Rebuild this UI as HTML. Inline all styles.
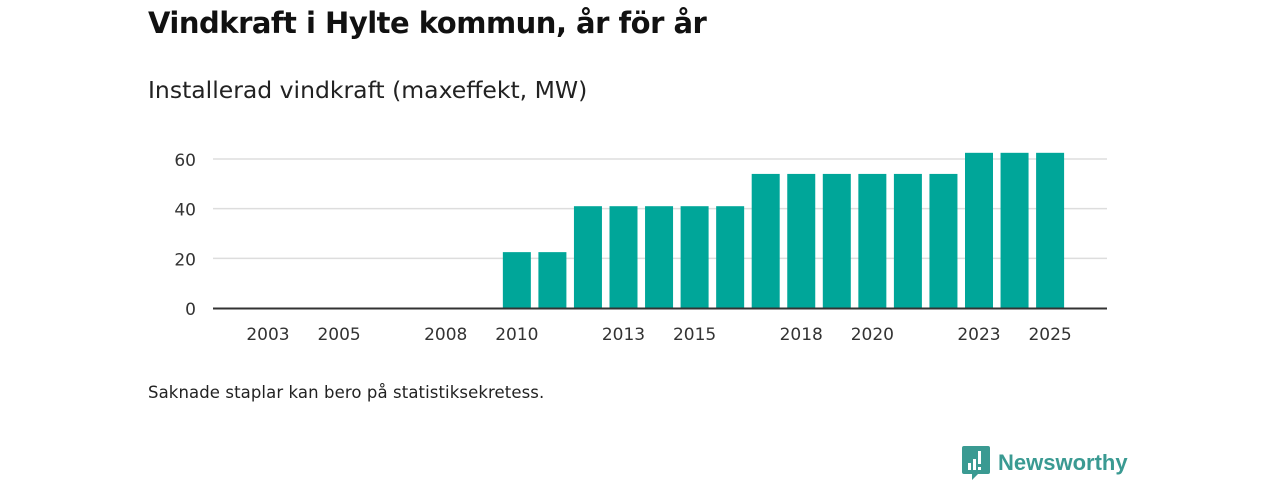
<!DOCTYPE html>
<html><head><meta charset="utf-8">
<style>
body{margin:0;width:1280px;height:480px;background:#fff;font-family:"DejaVu Sans",sans-serif;overflow:hidden;position:relative}
.t{position:absolute;left:148px;top:6px;font-size:29px;font-weight:bold;color:#111;letter-spacing:-0.5px}
.s{position:absolute;left:148px;top:76px;font-size:23.5px;color:#222;letter-spacing:0px}
.n{position:absolute;left:148px;top:383px;font-size:16.5px;color:#222;letter-spacing:0.1px}
.logo{position:absolute;left:962px;top:446px;display:flex;align-items:center}
.logo span{font-family:"Liberation Sans",sans-serif;font-size:22px;font-weight:bold;color:#3a9a92;margin-left:8px}
</style></head><body>
<div class="t">Vindkraft i Hylte kommun, år för år</div>
<div class="s">Installerad vindkraft (maxeffekt, MW)</div>
<svg id="c" width="1280" height="480" style="position:absolute;left:0;top:0"></svg>
<div class="n">Saknade staplar kan bero på statistiksekretess.</div>
<div class="logo">
<svg width="28" height="34" viewBox="0 0 28 34"><path d="M2 0h24a2 2 0 0 1 2 2v24a2 2 0 0 1-2 2H16l-6 6v-6H2a2 2 0 0 1-2-2V2a2 2 0 0 1 2-2z" fill="#3a9a92"/><rect x="6" y="17" width="3" height="7" fill="#fff"/><rect x="11" y="13" width="3" height="11" fill="#fff"/><rect x="16" y="5" width="3" height="13" fill="#fff"/><rect x="16" y="21" width="3" height="3" fill="#fff"/></svg>
<span>Newsworthy</span></div>
<script>
const years=[2010,2011,2012,2013,2014,2015,2016,2017,2018,2019,2020,2021,2022,2023,2024,2025];
const values=[22.5,22.5,41,41,41,41,41,54,54,54,54,54,54,62.5,62.5,62.5];
const yTicks=[0,20,40,60];
const xTicks=[2003,2005,2008,2010,2013,2015,2018,2020,2023,2025];
const NS="http://www.w3.org/2000/svg",svg=document.getElementById('c');
const x=y=>268+(y-2003)*35.55, y=v=>308-v*2.483;
function mk(t,a){const e=document.createElementNS(NS,t);for(const k in a)e.setAttribute(k,a[k]);svg.appendChild(e);return e;}
yTicks.forEach(v=>{
 if(v>0){const g=mk('line',{x1:213,x2:1107,y1:y(v),y2:y(v),stroke:'#ddd','stroke-width':1.5});
 
 }
 const t=mk('text',{x:196,y:y(v)+7,'text-anchor':'end','font-size':17,fill:'#333','font-family':'DejaVu Sans'});
 
 
 t.textContent=v;
});
years.forEach((yr,i)=>{
 const r=mk('rect',{x:x(yr)-14,y:y(values[i]),width:28,height:308-y(values[i]),fill:'#00a699'});
 
 
});
const ax=mk('line',{x1:213,x2:1107,y1:308.5,y2:308.5,stroke:'#333','stroke-width':2});


xTicks.forEach(yr=>{
 const t=mk('text',{x:x(yr),y:340,'text-anchor':'middle','font-size':17,fill:'#333','font-family':'DejaVu Sans'});
 
 
 t.textContent=yr;
});
</script>
</body></html>
